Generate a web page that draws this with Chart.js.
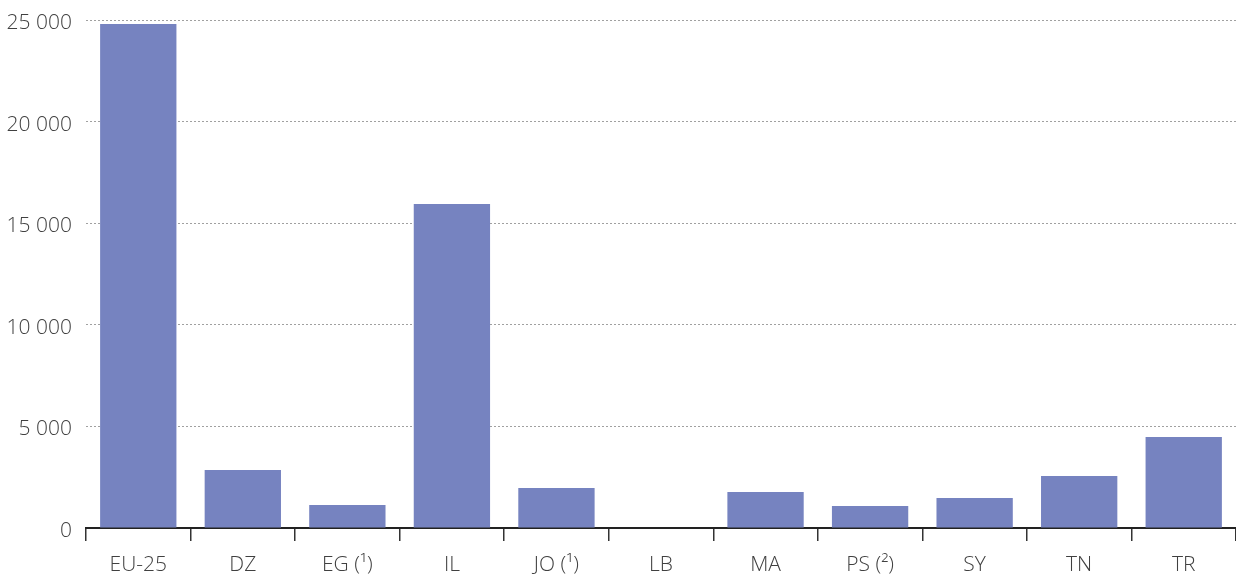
<!DOCTYPE html>
<html>
<head>
<meta charset="utf-8">
<script src="https://cdn.jsdelivr.net/npm/chart.js@4/dist/chart.umd.min.js"></script>
<style>
    html, body { margin: 0; padding: 0; background: #fff; }
    #wrap { width: 1236px; height: 578px; }
</style>
</head>
<body>
<div id="wrap"><canvas id="chart"></canvas></div>
<script>
const categories = ['EU-25', 'DZ', 'EG (¹)', 'IL', 'JO (¹)', 'LB', 'MA', 'PS (²)', 'SY', 'TN', 'TR'];
const values = [24800, 2850, 1130, 15950, 1970, 0, 1770, 1080, 1480, 2560, 4480];
const yTicks = [0, 5000, 10000, 15000, 20000, 25000];

function formatNumber(v) {
    return String(v).replace(/\B(?=(\d{3})+(?!\d))/g, ' ');
}

Chart.defaults.font.family = '"Open Sans", "Noto Sans", sans-serif';
Chart.defaults.font.size = 21;
Chart.defaults.font.weight = 300;
Chart.defaults.color = '#404040';

new Chart(document.getElementById('chart'), {
    type: 'bar',
    data: {
        labels: categories,
        datasets: [{
            data: values,
            backgroundColor: '#7683c0',
            barPercentage: 0.73,
            categoryPercentage: 1
        }]
    },
    options: {
        responsive: true,
        maintainAspectRatio: false,
        animation: false,
        layout: { padding: { top: 20, right: 0, left: 0, bottom: 0 } },
        plugins: {
            legend: { display: false },
            tooltip: { enabled: false }
        },
        scales: {
            x: {
                offset: true,
                grid: {
                    offset: true,
                    drawOnChartArea: false,
                    drawTicks: true,
                    tickLength: 13,
                    color: '#333',
                    lineWidth: 1.5
                },
                border: { display: true, color: '#222', width: 2 },
                ticks: { padding: 11 },
                afterFit: (scale) => { scale.height = 50; }
            },
            y: {
                min: 0,
                max: 25000,
                afterBuildTicks: (scale) => { scale.ticks = yTicks.map(v => ({ value: v })); },
                grid: {
                    drawTicks: false,
                    color: '#a0a0a0',
                    lineWidth: 1
                },
                border: { display: false, dash: [2, 2] },
                ticks: {
                    padding: 14,
                    labelOffset: 3,
                    font: { lineHeight: 0.5 },
                    callback: (v) => formatNumber(v)
                },
                afterFit: (scale) => { scale.width = 86; }
            }
        }
    }
});
</script>
</body>
</html>
